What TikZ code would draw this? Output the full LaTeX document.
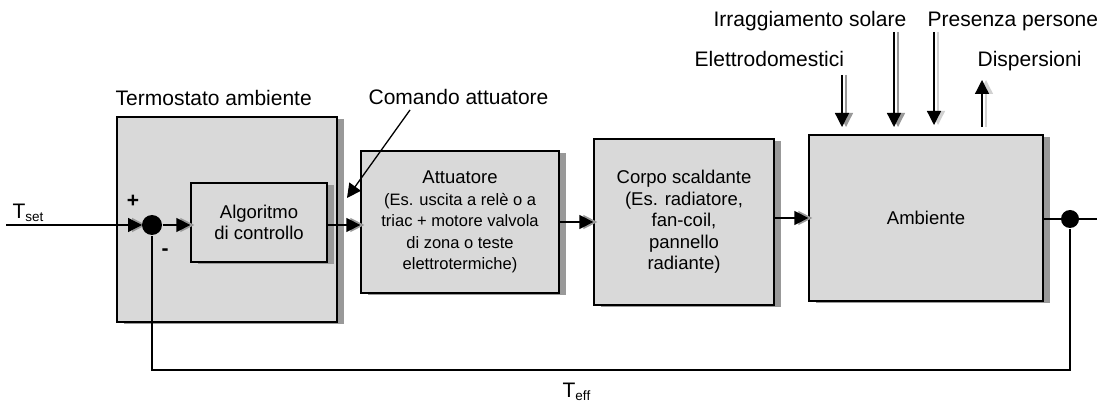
\documentclass[tikz,border=0pt]{standalone}
\usepackage{fontspec}
\setmainfont{Liberation Sans}
\usetikzlibrary{arrows.meta,shadows}
\definecolor{boxgray}{HTML}{D9D9D9}
\definecolor{shadowgray}{HTML}{999999}
\newcommand{\labfont}{\fontsize{21}{25}\selectfont}
\newcommand{\boxfont}{\fontsize{18.5}{21.5}\selectfont}
\newcommand{\noteboxfont}{\fontsize{16.5}{18.5}\selectfont}
\newcommand{\subtxt}[1]{\raisebox{-3pt}{\fontsize{13.5}{14}\selectfont #1}}

\begin{document}
\begin{tikzpicture}[x=1pt, y=-1pt, line width=1.3pt, >={Triangle[length=14pt,width=14pt]},
	blk/.style={draw, fill=boxgray, inner sep=0pt, align=center, font=\boxfont,
		drop shadow={shadow xshift=7pt, shadow yshift=-2pt, opacity=1, fill=shadowgray}},
	lab/.style={font=\labfont, inner sep=0pt, anchor=base west},
	sig/.style={->, preaction={draw=shadowgray, ->, transform canvas={xshift=4pt}}},
	sigsoft/.style={->, preaction={draw=shadowgray!45, ->, transform canvas={xshift=4pt}}},
	dot/.style={circle, fill, inner sep=0pt}]
	\useasboundingbox (0,0) rectangle (1103,403);
	% blocks
	\node[blk, minimum width=220pt, minimum height=205pt] (term) at (227,219.5) {};
	\node[blk, minimum width=136pt, minimum height=79pt] (algo) at (259,222.5) {Algoritmo\\di controllo};
	\node[blk, minimum width=198pt, minimum height=142pt] (att) at (460,222) {Attuatore\\
		\noteboxfont (Es. uscita a relè o a\\
		\noteboxfont triac + motore valvola\\
		\noteboxfont di zona o teste\\
		\noteboxfont elettrotermiche)};
	\node[blk, minimum width=180pt, minimum height=166pt] (corpo) at (684,222) {Corpo scaldante\\(Es. radiatore,\\fan-coil,\\pannello\\radiante)};
	\node[blk, minimum width=234pt, minimum height=166pt] (amb) at (926,218) {Ambiente};
	% labels
	\node[lab] (tset) at (12,219) {T\subtxt{set}};
	\node[lab] (teff) at (562,397) {T\subtxt{eff}};
	\node[lab] (ltherm) at (115,106) {Termostato ambiente};
	\node[lab] (lcmd) at (368,105) {Comando attuatore};
	\node[lab] (lelet) at (694,67) {Elettrodomestici};
	\node[lab] (lsun) at (713,27) {Irraggiamento solare};
	\node[lab] (lpeople) at (927,27) {Presenza persone};
	\node[lab] (lloss) at (977,67) {Dispersioni};
	\node[font=\labfont\bfseries, inner sep=0pt] (plus) at (133,201) {+};
	\node[font=\labfont\bfseries, inner sep=0pt] (minus) at (165,252) {-};
	% signal path
	\coordinate (tin) at (6,225);
	\coordinate (yout) at (1097,219);
	\coordinate (fb) at (600,370);
	\draw[sig] (tin) -- (142,225) coordinate (sumin);
	\draw (amb.east |- yout) -- (yout);
	\node[dot, minimum size=20pt] (sum) at (152,225) {};
	\node[dot, minimum size=18pt] (out) at (1070,219) {};
	\draw (out) -- (out |- fb) -- (sum |- fb) -- (sum);
	\draw[sig] (sum.east) -- (sum.east -| algo.west);
	\draw[sig] (algo.east |- sum) -- (sum -| att.west);
	\draw[sig] (att.east) -- (att.east -| corpo.west);
	\draw[sig] (amb.west -| corpo.east) -- (amb.west);
	% command arrow
	\coordinate (cmdtail) at (410,110);
	\coordinate (cmdtip) at (347,198);
	\draw[->] (cmdtail) -- (cmdtip);
	% disturbances
	\coordinate (eletin) at (842,75);
	\coordinate (eletout) at (842,127);
	\coordinate (sunin) at (894,32);
	\coordinate (sunout) at (894,127);
	\coordinate (peoplein) at (934,32);
	\coordinate (peopleout) at (934,125);
	\coordinate (lossin) at (982,127);
	\coordinate (lossout) at (982,80);
	\draw[sig] (eletin) -- (eletout);
	\draw[sig] (sunin) -- (sunout);
	\draw[sigsoft] (peoplein) -- (peopleout);
	\draw[sigsoft] (lossin) -- (lossout);
\end{tikzpicture}
\end{document}
